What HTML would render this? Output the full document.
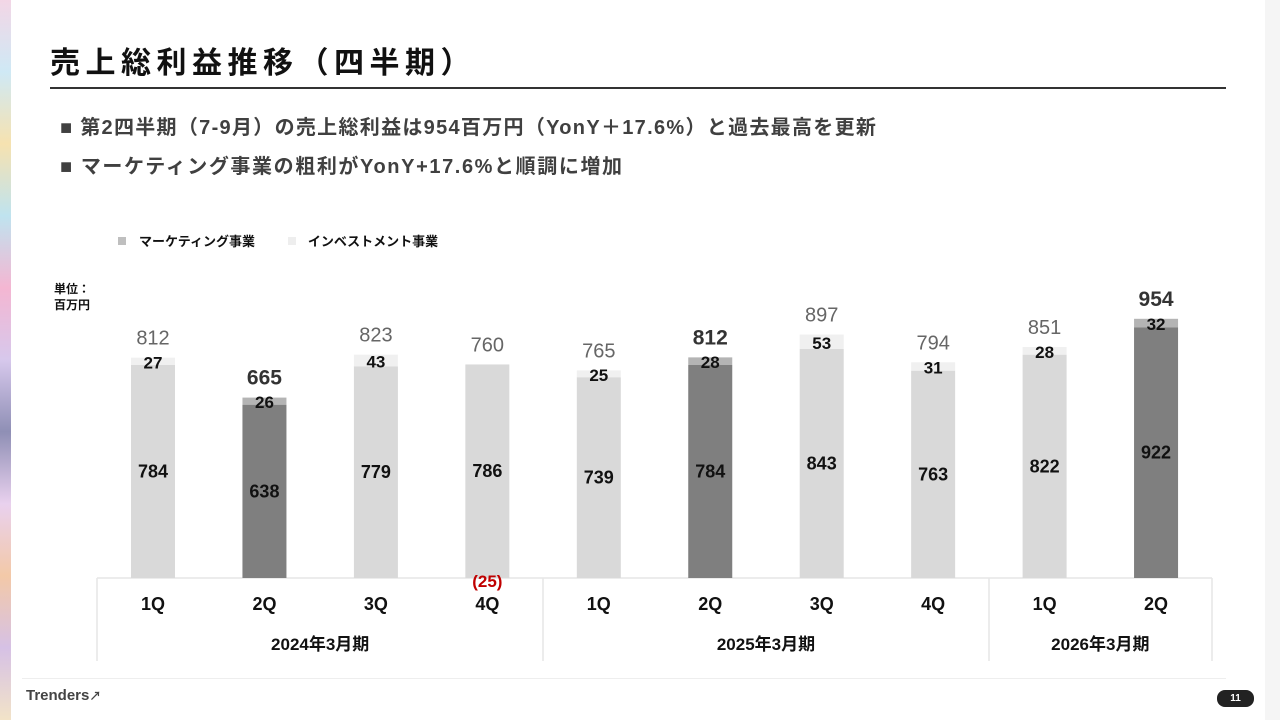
<!DOCTYPE html>
<html><head><meta charset="utf-8"><style>
body{margin:0;width:1280px;height:720px;overflow:hidden;background:#fff;font-family:"Liberation Sans","Noto Sans CJK JP",sans-serif;position:relative}
.abs{position:absolute}
</style></head><body>
<div class="abs" style="left:0;top:0;width:11px;height:720px;background:linear-gradient(180deg,#f3d6e6,#cfe9f5 10%,#f6e2b0 20%,#bfe3ef 30%,#f4b6d2 40%,#d7c8ec 50%,#8f8fb5 60%,#e9d1ee 70%,#f3c9a8 80%,#d6c1e5 90%,#f2e3c8)"></div>
<div class="abs" style="left:1265px;top:0;width:15px;height:720px;background:#f5f5f5"></div>
<div class="abs" style="left:50px;top:38px;font-size:30px;font-weight:bold;color:#111;letter-spacing:5.5px">売上総利益推移（四半期）</div>
<div class="abs" style="left:50px;top:87px;width:1176px;height:2px;background:#333"></div>
<div class="abs" style="left:60px;top:111px;font-size:20px;letter-spacing:1.3px;font-weight:bold;color:#404040">■ 第2四半期（7-9月）の売上総利益は954百万円（YonY＋17.6%）と過去最高を更新</div>
<div class="abs" style="left:60px;top:150px;font-size:20px;letter-spacing:1.6px;font-weight:bold;color:#404040">■ マーケティング事業の粗利がYonY+17.6%と順調に増加</div>
<div class="abs" style="left:54px;top:281px;font-size:12px;font-weight:bold;line-height:16px;color:#111">単位：<br>百万円</div>
<div class="abs" style="left:22px;top:678px;width:1204px;height:1px;background:#eee"></div>
<div class="abs" style="left:26px;top:687px;font-size:15px;color:#444;font-weight:bold">Trenders<span style="font-size:12px">↗</span></div>
<div class="abs" style="left:1217px;top:690px;width:37px;height:17px;border-radius:8px;background:#222;color:#fff;font-size:10px;font-weight:bold;text-align:center;line-height:17px">11</div>
<svg class="abs" style="left:0;top:0" width="1280" height="720" id="chart"></svg>
<script>
const categories=["1Q","2Q","3Q","4Q","1Q","2Q","3Q","4Q","1Q","2Q"];
const marketing=[784,638,779,786,739,784,843,763,822,922];
const investment=[27,26,43,-25,25,28,53,31,28,32];
const totals=[812,665,823,760,765,812,897,794,851,954];
const highlight=[0,1,0,0,0,1,0,0,0,1];
const years=["2024年3月期","2025年3月期","2026年3月期"];
const yearSpans=[[0,4],[4,8],[8,10]];
const NS="http://www.w3.org/2000/svg";
const svg=document.getElementById('chart');
const base=578,k=0.2717,x0=153,step=111.45,bw=44;
const y=v=>base-v*k, xc=i=>x0+i*step;
function mk(t,a){const e=document.createElementNS(NS,t);for(const n in a)e.setAttribute(n,a[n]);svg.appendChild(e);return e;}
function tx(s,x,yy,sz,fill,w){const e=mk('text',{x:x,y:yy,'font-size':sz,fill:fill,'text-anchor':'middle','font-weight':w||'normal','font-family':'"Liberation Sans","Noto Sans CJK JP",sans-serif'});e.textContent=s;return e;}
let l=mk('rect',{x:118,y:237,width:8,height:8,fill:'#bfbfbf'});
let lt=tx('マーケティング事業',197,246,13,'#111','bold');
let l2=mk('rect',{x:288,y:237,width:8,height:8,fill:'#eeeeee'});
let lt2=tx('インベストメント事業',373,246,13,'#111','bold');
const left=97,right=1212;
let ax=mk('line',{x1:left,y1:base,x2:right,y2:base,stroke:'#e6e6e6','stroke-width':1.5});
[left,543,989,right].forEach(xx=>{let d=mk('line',{x1:xx,y1:base,x2:xx,y2:661,stroke:'#e6e6e6','stroke-width':1.5});});
for(let i=0;i<categories.length;i++){
  const cx=xc(i),hi=highlight[i];
  const m=marketing[i],inv=investment[i];
  let r=mk('rect',{x:cx-bw/2,y:y(m),width:bw,height:m*k,fill:hi?'#7f7f7f':'#d9d9d9'});
  
  if(inv>0){let r2=mk('rect',{x:cx-bw/2,y:y(m+inv),width:bw,height:inv*k,fill:hi?'#b4b4b4':'#f0f0f0'});
    
    let it=tx(String(inv),cx,y(m+inv)+Math.max(inv*k/2,0)+7,17,'#111','bold');
    
  } else {
    let it=tx('('+Math.abs(inv)+')',cx,base+9,17,'#c00000','bold');
    
  }
  let ml=tx(String(m),cx,y(m/2)+6,18,'#111','bold');
  
  const top=Math.max(m,m+inv);
  let tl=tx(String(totals[i]),cx,y(top)-13,hi?21:20,hi?'#333':'#666',hi?'bold':'normal');
  
  let cl=tx(categories[i],cx,610,18,'#111','bold');
  
}
years.forEach((s,j)=>{const [a,b]=yearSpans[j];const cx=(xc(a)+xc(b-1))/2;
  let t=tx(s,cx,650,17,'#111','bold');});
</script>
</body></html>
